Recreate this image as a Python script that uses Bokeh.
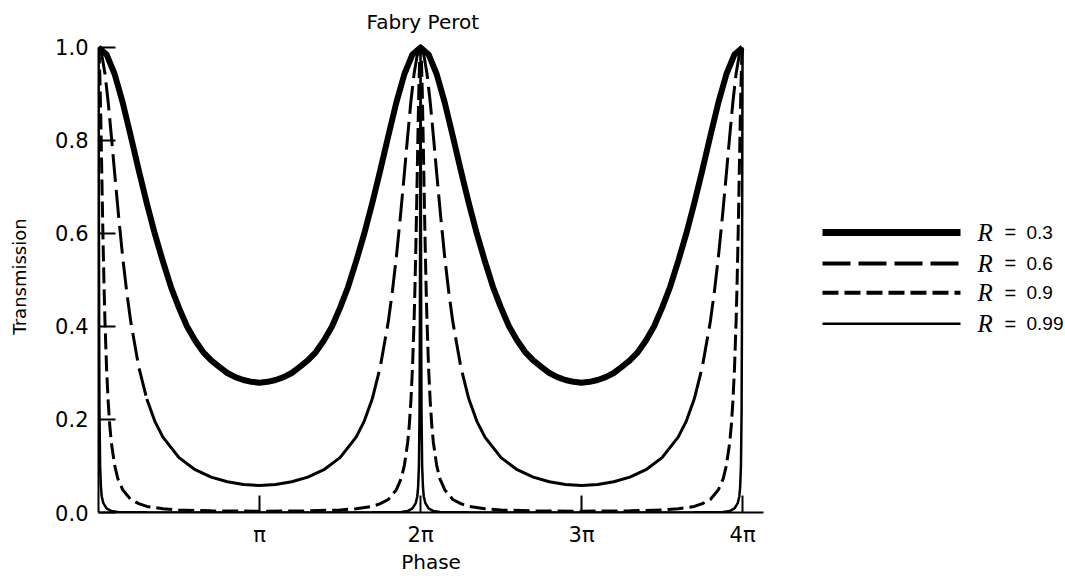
import numpy as np
from bokeh.plotting import figure
from bokeh.models import Range1d, FixedTicker, NumeralTickFormatter
from bokeh.layouts import row
from bokeh.embed import file_html
from bokeh.resources import INLINE
from bokeh.core.properties import value

# ---------------- data (phase in units of pi, transmission) ----------------
phase_r03 = [0.00, 0.05, 0.10, 0.15, 0.20, 0.25, 0.30, 0.35, 0.40, 0.45, 0.50,
             0.55, 0.60, 0.65, 0.70, 0.75, 0.80, 0.85, 0.90, 0.95, 1.00,
             1.05, 1.10, 1.15, 1.20, 1.25, 1.30, 1.35, 1.40, 1.45, 1.50,
             1.55, 1.60, 1.65, 1.70, 1.75, 1.80, 1.85, 1.90, 1.95, 2.00,
             2.05, 2.10, 2.15, 2.20, 2.25, 2.30, 2.35, 2.40, 2.45, 2.50,
             2.55, 2.60, 2.65, 2.70, 2.75, 2.80, 2.85, 2.90, 2.95, 3.00,
             3.05, 3.10, 3.15, 3.20, 3.25, 3.30, 3.35, 3.40, 3.45, 3.50,
             3.55, 3.60, 3.65, 3.70, 3.75, 3.80, 3.85, 3.90, 3.95, 4.00]
trans_r03 = [1.000, 0.985, 0.943, 0.882, 0.810, 0.736, 0.665, 0.599, 0.540, 0.485, 0.440,
             0.400, 0.370, 0.345, 0.327, 0.313, 0.300, 0.291, 0.285, 0.281, 0.279,
             0.281, 0.285, 0.291, 0.300, 0.313, 0.327, 0.345, 0.370, 0.400, 0.440,
             0.485, 0.540, 0.599, 0.665, 0.736, 0.810, 0.882, 0.943, 0.985, 1.000,
             0.985, 0.943, 0.882, 0.810, 0.736, 0.665, 0.599, 0.540, 0.485, 0.440,
             0.400, 0.370, 0.345, 0.327, 0.313, 0.300, 0.291, 0.285, 0.281, 0.279,
             0.281, 0.285, 0.291, 0.300, 0.313, 0.327, 0.345, 0.370, 0.400, 0.440,
             0.485, 0.540, 0.599, 0.665, 0.736, 0.810, 0.882, 0.943, 0.985, 1.000]

phase_r06 = [0.00, 0.02, 0.04, 0.06, 0.08, 0.10, 0.125, 0.15, 0.175, 0.20, 0.25, 0.30, 0.35, 0.40, 0.50, 0.60, 0.70, 0.80, 0.90, 1.00,
             1.10, 1.20, 1.30, 1.40, 1.50, 1.60, 1.65, 1.70, 1.75, 1.80, 1.825, 1.85, 1.875, 1.90, 1.92, 1.94, 1.96, 1.98, 2.00,
             2.02, 2.04, 2.06, 2.08, 2.10, 2.125, 2.15, 2.175, 2.20, 2.25, 2.30, 2.35, 2.40, 2.50, 2.60, 2.70, 2.80, 2.90, 3.00,
             3.10, 3.20, 3.30, 3.40, 3.50, 3.60, 3.65, 3.70, 3.75, 3.80, 3.825, 3.85, 3.875, 3.90, 3.92, 3.94, 3.96, 3.98, 4.00]
trans_r06 = [1.000, 0.985, 0.944, 0.883, 0.809, 0.731, 0.637, 0.550, 0.475, 0.411, 0.313, 0.244, 0.196, 0.162, 0.118, 0.092, 0.076, 0.066, 0.060, 0.058,
             0.060, 0.066, 0.076, 0.092, 0.118, 0.162, 0.196, 0.244, 0.313, 0.411, 0.475, 0.550, 0.637, 0.731, 0.809, 0.883, 0.944, 0.985, 1.000,
             0.985, 0.944, 0.883, 0.809, 0.731, 0.637, 0.550, 0.475, 0.411, 0.313, 0.244, 0.196, 0.162, 0.118, 0.092, 0.076, 0.066, 0.060, 0.058,
             0.060, 0.066, 0.076, 0.092, 0.118, 0.162, 0.196, 0.244, 0.313, 0.411, 0.475, 0.550, 0.637, 0.731, 0.809, 0.883, 0.944, 0.985, 1.000]

phase_r09 = [0.000, 0.005, 0.010, 0.015, 0.020, 0.025, 0.030, 0.035, 0.040, 0.050, 0.060, 0.070, 0.080, 0.100, 0.120, 0.150, 0.200, 0.250, 0.300, 0.400, 0.500, 0.700, 1.000,
             1.300, 1.500, 1.600, 1.700, 1.750, 1.800, 1.850, 1.880, 1.900, 1.920, 1.930, 1.940, 1.950, 1.960, 1.965, 1.970, 1.975, 1.980, 1.985, 1.990, 1.995, 2.000,
             2.005, 2.010, 2.015, 2.020, 2.025, 2.030, 2.035, 2.040, 2.050, 2.060, 2.070, 2.080, 2.100, 2.120, 2.150, 2.200, 2.250, 2.300, 2.400, 2.500, 2.700, 3.000,
             3.300, 3.500, 3.600, 3.700, 3.750, 3.800, 3.850, 3.880, 3.900, 3.920, 3.930, 3.940, 3.950, 3.960, 3.965, 3.970, 3.975, 3.980, 3.985, 3.990, 3.995, 4.000]
trans_r09 = [1.000, 0.978, 0.918, 0.833, 0.738, 0.643, 0.556, 0.479, 0.413, 0.311, 0.239, 0.187, 0.150, 0.102, 0.073, 0.049, 0.028, 0.019, 0.013, 0.008, 0.0055, 0.0035, 0.0028,
             0.0035, 0.0055, 0.008, 0.013, 0.019, 0.028, 0.049, 0.073, 0.102, 0.150, 0.187, 0.239, 0.311, 0.413, 0.479, 0.556, 0.643, 0.738, 0.833, 0.918, 0.978, 1.000,
             0.978, 0.918, 0.833, 0.738, 0.643, 0.556, 0.479, 0.413, 0.311, 0.239, 0.187, 0.150, 0.102, 0.073, 0.049, 0.028, 0.019, 0.013, 0.008, 0.0055, 0.0035, 0.0028,
             0.0035, 0.0055, 0.008, 0.013, 0.019, 0.028, 0.049, 0.073, 0.102, 0.150, 0.187, 0.239, 0.311, 0.413, 0.479, 0.556, 0.643, 0.738, 0.833, 0.918, 0.978, 1.000]

phase_r099 = [0.0, 0.002, 0.004, 0.006, 0.01, 0.015, 0.02, 0.03, 0.05, 0.08, 0.12, 0.3, 0.6, 1.0,
              1.4, 1.7, 1.88, 1.92, 1.95, 1.97, 1.98, 1.985, 1.99, 1.994, 1.996, 1.998, 2.0,
              2.002, 2.004, 2.006, 2.01, 2.015, 2.02, 2.03, 2.05, 2.08, 2.12, 2.3, 2.6, 3.0,
              3.4, 3.7, 3.88, 3.92, 3.95, 3.97, 3.98, 3.985, 3.99, 3.994, 3.996, 3.998, 4.0]
trans_r099 = [1.0, 0.72, 0.40, 0.22, 0.10, 0.055, 0.035, 0.02, 0.009, 0.003, 0.001, 0.0003, 0.0001, 0.00005,
              0.0001, 0.0003, 0.001, 0.003, 0.009, 0.02, 0.035, 0.055, 0.10, 0.22, 0.40, 0.72, 1.0,
              0.72, 0.40, 0.22, 0.10, 0.055, 0.035, 0.02, 0.009, 0.003, 0.001, 0.0003, 0.0001, 0.00005,
              0.0001, 0.0003, 0.001, 0.003, 0.009, 0.02, 0.035, 0.055, 0.10, 0.22, 0.40, 0.72, 1.0]

x_ticks = [1, 2, 3, 4]
x_tick_labels = ["π", "2π", "3π", "4π"]
y_ticks = [0.0, 0.2, 0.4, 0.6, 0.8, 1.0]
legend_values = ["0.3", "0.6", "0.9", "0.99"]

# ---------------- styles ----------------
TICK_FONT = "DejaVu Sans"
W_MAIN, W_LEG, H = 800, 264, 578
BORDER_L, FRAME_W = 98, 665
style_03 = dict(line_width=6, line_dash="solid")
style_06 = dict(line_width=3, line_dash="28 8")
style_06_solid = dict(line_width=3, line_dash="solid")
style_09 = dict(line_width=3, line_dash="16 6")
style_099 = dict(line_width=2.5, line_dash="solid")

p = figure(width=W_MAIN, height=H, x_range=Range1d(0, 4.13), y_range=Range1d(0, 1.015),
           output_backend="svg", toolbar_location=None,
           min_border_left=BORDER_L, min_border_right=W_MAIN - BORDER_L - FRAME_W,
           min_border_top=38, min_border_bottom=66)
p.title.text = "Fabry Perot"
p.title.align = "left"
p.title.text_font = TICK_FONT
p.title.text_font_size = "20px"
p.title.text_font_style = "normal"
p.title.text_color = "black"
p.title.standoff = 14
p.title.offset = 268
p.outline_line_color = None
p.xgrid.visible = False
p.ygrid.visible = False
p.background_fill_color = "white"
p.border_fill_color = "white"

for ax in (p.xaxis[0], p.yaxis[0]):
    ax.axis_line_width = 2
    ax.axis_line_color = "black"
    ax.major_tick_line_width = 2
    ax.major_tick_line_color = "black"
    ax.major_tick_in = 17
    ax.major_tick_out = 0
    ax.minor_tick_line_color = None
    ax.major_label_text_font = TICK_FONT
    ax.major_label_text_font_size = "21px"
    ax.major_label_text_color = "black"
    ax.axis_label_text_font = TICK_FONT
    ax.axis_label_text_font_style = "normal"
    ax.axis_label_text_color = "black"

p.xaxis.ticker = FixedTicker(ticks=x_ticks)
p.xaxis.major_label_overrides = {t: s for t, s in zip(x_ticks, x_tick_labels)}
p.xaxis.bounds = (0, 4.13)
p.xaxis.axis_label = "Phase"
p.xaxis.axis_label_text_font_size = "20px"
p.xaxis.major_label_standoff = 10
p.xaxis.axis_label_standoff = 0

p.yaxis.ticker = FixedTicker(ticks=y_ticks)
p.yaxis.formatter = NumeralTickFormatter(format="0.0")
p.yaxis.bounds = (0, 1.0)
p.yaxis.axis_label = "Transmission"
p.yaxis.axis_label_text_font_size = "18px"
p.yaxis.major_label_standoff = 10
p.yaxis.axis_label_standoff = 22

# curves
p.line(phase_r099, trans_r099, color="black", **style_099)
p.line(phase_r09, trans_r09, color="black", **style_09)

x6 = np.array(phase_r06)
t6 = np.array(trans_r06)
near_peak = t6 >= 0.24


def runs(mask):
    idx = np.flatnonzero(mask)
    if len(idx) == 0:
        return []
    return np.split(idx, np.where(np.diff(idx) > 1)[0] + 1)


dash_xs, dash_ys, solid_xs, solid_ys = [], [], [], []
for g in runs(near_peak):
    dash_xs.append(x6[g].tolist())
    dash_ys.append(t6[g].tolist())
for g in runs(~near_peak):
    lo, hi = max(g[0] - 1, 0), min(g[-1] + 1, len(x6) - 1)
    solid_xs.append(x6[lo:hi + 1].tolist())
    solid_ys.append(t6[lo:hi + 1].tolist())
p.multi_line(dash_xs, dash_ys, color="black", **style_06)
p.multi_line(solid_xs, solid_ys, color="black", **style_06_solid)

p.line(phase_r03, trans_r03, color="black", line_join="round", **style_03)

# ---------------- legend panel ----------------
leg = figure(width=W_LEG, height=H, x_range=Range1d(0, W_LEG), y_range=Range1d(H, 0),
             output_backend="svg", toolbar_location=None,
             min_border_left=0, min_border_right=0, min_border_top=0, min_border_bottom=0,
             x_axis_type=None, y_axis_type=None)
leg.outline_line_color = None
leg.xgrid.visible = False
leg.ygrid.visible = False
leg.background_fill_color = "white"
leg.border_fill_color = "white"

leg_rows_y = [235, 273, 309, 347]
leg_x0, leg_x1 = 22, 160
styles = [style_03, style_06, style_09, style_099]
leg_widths = [7, 4, 4, 2.5]
for yy, st, lw in zip(leg_rows_y, styles, leg_widths):
    s = dict(st)
    s["line_width"] = lw
    leg.line([leg_x0, leg_x1], [yy, yy], color="black", **s)

leg.text(x=[177] * 4, y=leg_rows_y, text=["R"] * 4, text_font=value("Liberation Serif"),
         text_font_style="italic", text_font_size="25px", text_baseline="middle", text_align="left",
         text_color="black")
leg.text(x=[204] * 4, y=leg_rows_y, text=["="] * 4, text_font=value("Liberation Sans"),
         text_font_size="20px", text_baseline="middle", text_align="left", text_color="black")
leg.text(x=[226] * 4, y=leg_rows_y, text=legend_values, text_font=value("Liberation Sans"),
         text_font_size="19px", text_baseline="middle", text_align="left", text_color="black")

layout = row(p, leg)
open("out.html", "w").write(file_html(layout, INLINE))
